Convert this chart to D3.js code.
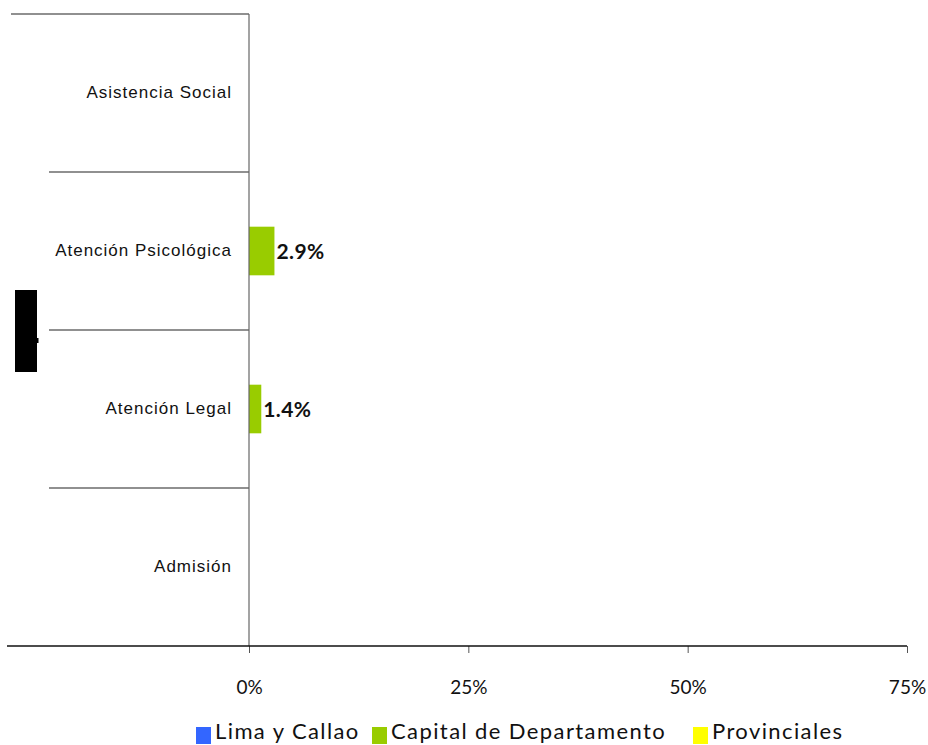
<!DOCTYPE html>
<html>
<head>
<meta charset="utf-8">
<script src="https://cdn.jsdelivr.net/npm/d3@7/dist/d3.min.js"></script>
<style>
  html, body { margin: 0; padding: 0; background: #fff; overflow: hidden; }
  svg { display: block; }
</style>
</head>
<body>
<script>
// Service categories, listed top to bottom
const categories = ["Asistencia Social", "Atención Psicológica", "Atención Legal", "Admisión"];
// Series names and their share (%) for each category
const seriesNames = ["Lima y Callao", "Capital de Departamento", "Provinciales"];
const limaCallao = [0, 0, 0, 0];
const capitalDepartamento = [0, 2.9, 1.4, 0];
const provinciales = [0, 0, 0, 0];
const seriesColors = ["#3366FF", "#99CC00", "#FFFF00"];
const xTicks = [0, 25, 50, 75];

const width = 928, height = 745;
const svg = d3.select("body").append("svg")
  .attr("width", width).attr("height", height);

const plotLeft = 249, plotRight = 907, plotTop = 14, plotBottom = 646;

const x = d3.scaleLinear().domain([0, 75]).range([plotLeft, plotRight]);
const y = d3.scaleBand().domain(categories).range([plotTop, plotBottom]).paddingInner(0).paddingOuter(0);
const ySub = d3.scaleBand().domain(seriesNames).range([0, y.bandwidth()]).paddingInner(0).paddingOuter(0.125);

const series = [limaCallao, capitalDepartamento, provinciales].map((vals, i) => ({
  name: seriesNames[i], color: seriesColors[i],
  values: vals.map((v, j) => ({ cat: categories[j], v }))
}));

// Category divider lines in the label area
const boundaries = categories.map(c => y(c));
svg.append("g").selectAll("line").data(boundaries).join("line")
  .attr("x1", (d, i) => i === 0 ? 11 : 49).attr("x2", plotLeft)
  .attr("y1", d => d).attr("y2", d => d)
  .attr("stroke", "#222").attr("stroke-width", 1.2);

// Bars
const barG = svg.append("g");
series.forEach(s => {
  barG.append("g").selectAll("rect").data(s.values.filter(d => d.v > 0)).join("rect")
    .attr("x", x(0))
    .attr("y", d => y(d.cat) + ySub(s.name))
    .attr("width", d => x(d.v) - x(0))
    .attr("height", ySub.bandwidth())
    .attr("fill", s.color);
  barG.append("g").selectAll("text").data(s.values.filter(d => d.v > 0)).join("text")
    .attr("x", d => x(d.v) + 2)
    .attr("y", d => y(d.cat) + ySub(s.name) + ySub.bandwidth() / 2)
    .attr("dy", "0.36em")
    .attr("font-family", "Lato, sans-serif")
    .attr("font-weight", "bold")
    .attr("font-size", 21)
    .attr("letter-spacing", "0.4px")
    .attr("fill", "#111")
    .text(d => d.v.toFixed(1) + "%");
});

// Vertical category axis line
svg.append("line")
  .attr("x1", plotLeft).attr("x2", plotLeft)
  .attr("y1", plotTop).attr("y2", plotBottom)
  .attr("stroke", "#666").attr("stroke-width", 1.2);

// Category labels
svg.append("g").selectAll("text").data(categories).join("text")
  .attr("x", 232)
  .attr("y", d => y(d) + y.bandwidth() / 2)
  .attr("dy", "0.3em")
  .attr("text-anchor", "end")
  .attr("font-family", "'Liberation Sans', Arial, sans-serif")
  .attr("font-size", 17)
  .attr("letter-spacing", "1px")
  .attr("fill", "#111")
  .text(d => d);

// Value axis along the bottom
const xAxis = d3.axisBottom(x).tickValues(xTicks).tickFormat(d => d + "%").tickSize(7).tickPadding(28);
const axG = svg.append("g").attr("transform", `translate(0,${plotBottom})`).call(xAxis);
axG.select(".domain").remove();
axG.selectAll(".tick line").attr("stroke", "#555");
axG.selectAll(".tick text")
  .attr("font-family", "Lato, sans-serif")
  .attr("font-size", 19)
  .attr("fill", "#111");
svg.append("line")
  .attr("x1", 7).attr("x2", plotRight)
  .attr("y1", plotBottom).attr("y2", plotBottom)
  .attr("stroke", "#111").attr("stroke-width", 1.4);

// Axis title block on the left
svg.append("rect").attr("x", 15).attr("y", 290).attr("width", 22).attr("height", 82).attr("fill", "#000");
svg.append("rect").attr("x", 37).attr("y", 338).attr("width", 1.5).attr("height", 5).attr("fill", "#000");

// Legend
const legendItems = [
  { name: seriesNames[0], color: seriesColors[0], x: 196 },
  { name: seriesNames[1], color: seriesColors[1], x: 372 },
  { name: seriesNames[2], color: seriesColors[2], x: 693 }
];
const lg = svg.append("g").selectAll("g").data(legendItems).join("g")
  .attr("transform", d => `translate(${d.x},0)`);
lg.append("rect").attr("x", 0).attr("y", 727).attr("width", 15).attr("height", 17).attr("fill", d => d.color);
lg.append("text").attr("x", 19).attr("y", 739)
  .attr("font-family", "Lato, sans-serif")
  .attr("font-size", 22)
  .attr("letter-spacing", "1.4px")
  .attr("fill", "#111")
  .text(d => d.name);
</script>
</body>
</html>
